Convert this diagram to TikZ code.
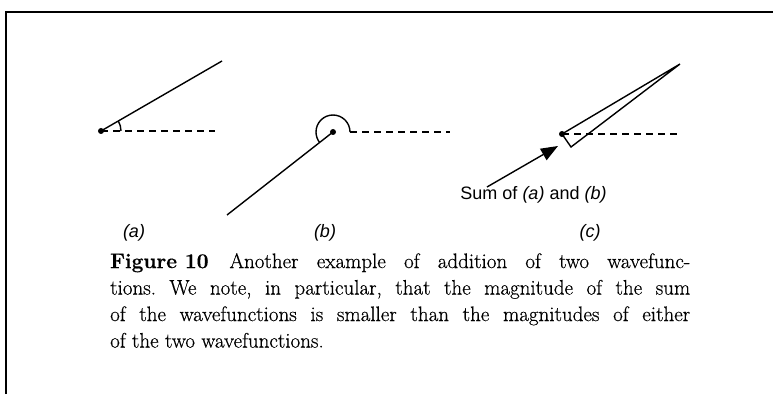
\documentclass[tikz,border=0pt]{standalone}
\usepackage{fontspec}
\newfontfamily\labelfont{Liberation Sans}
\newfontfamily\capfont{Latin Modern Roman}[FakeBold=0.5]
\usetikzlibrary{arrows.meta}
\tikzset{
  vec/.style={line width=1.4pt},
  ref/.style={line width=1.4pt, dash pattern=on 7pt off 5pt},
  dot/.style={circle, fill=black, inner sep=0pt, minimum size=6pt},
  lbl/.style={font=\labelfont\fontsize{18}{20}\selectfont, inner sep=0pt, anchor=base},
  frame/.style={line width=1.4pt}
}
\begin{document}
\begin{tikzpicture}[x=1pt,y=1pt]
\useasboundingbox (0,0) rectangle (773,394);
% frame
\coordinate (fb) at (6,0);
\coordinate (ftl) at (6,382);
\coordinate (ftr) at (773,382);
\draw[frame] (fb) -- (ftl) -- (ftr);
% (a)
\node[dot] (Oa) at (101,263) {};
\coordinate (Ea) at (222,333);
\coordinate (Da) at (215,263);
\draw[vec] (Oa.center) -- (Ea);
\draw[ref] (Oa.center) -- (Da);
\draw[vec] ([shift={(20,0)}]Oa.center) arc (0:30:20);
\node[lbl] (la) at (134,157) {\textit{(a)}};
% (b)
\node[dot] (Ob) at (333,262) {};
\coordinate (Eb) at (227,179);
\coordinate (Sb) at (350,262);
\coordinate (Db) at (450,262);
\draw[vec] (Ob.center) -- (Eb);
\draw[ref] (Sb) -- (Db);
\draw[vec] (Sb) arc (0:218:17);
\node[lbl] (lb) at (325,157) {\textit{(b)}};
% (c)
\node[dot] (Oc) at (562,260) {};
\coordinate (Ac) at (680,330);
\coordinate (Bc) at (571,247);
\coordinate (Dc) at (678,260);
\draw[ref] (Oc.center) -- (Dc);
\draw[vec, line join=miter] (Oc.center) -- (Ac) -- (Bc) -- cycle;
\node[lbl] (sum) at (533.5,194) {Sum of \textit{(a)} and \textit{(b)}};
\coordinate (St) at (487,207);
\coordinate (Sh) at (558,248);
\draw[vec, -{Triangle[length=17pt,width=13pt]}] (St) -- (Sh);
\node[lbl] (lc) at (590,157) {\textit{(c)}};
% caption
\node[anchor=north west, inner sep=0pt, text width=580pt, align=justify,
      font=\capfont\frenchspacing\fontsize{21}{26.5}\selectfont] (cap) at (110,141)
 {\textbf{\mbox{Figure 10}}\quad Another example of addition of two wavefunc-\linebreak
  tions. We note, in particular, that the magnitude of the sum\linebreak
  of the wavefunctions is smaller than the magnitudes of either\linebreak
  of the two wavefunctions.};
\end{tikzpicture}
\end{document}
